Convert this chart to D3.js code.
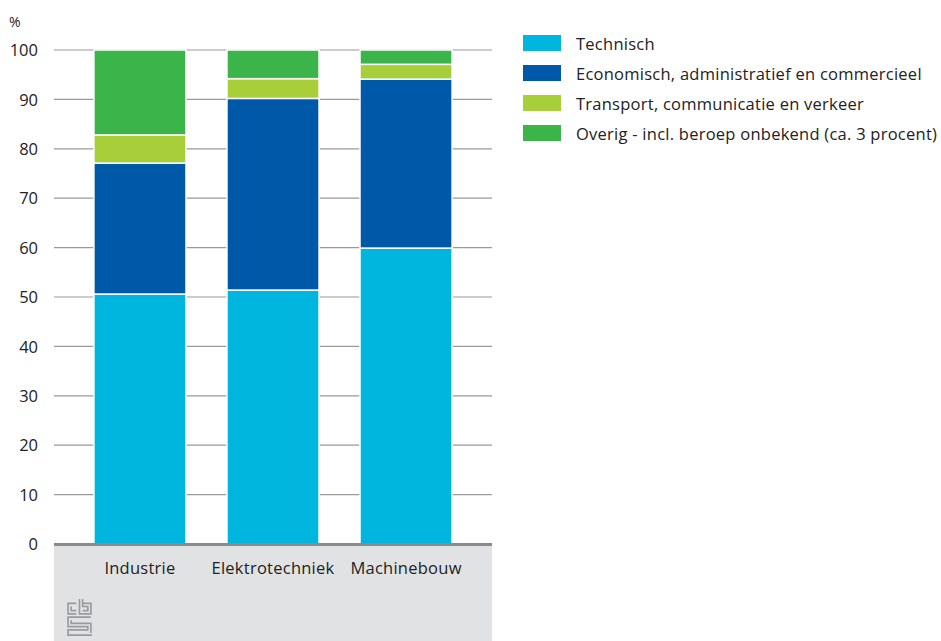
<!DOCTYPE html>
<html><head><meta charset="utf-8">
<script src="https://cdn.jsdelivr.net/npm/d3@7"></script>
<style>body{margin:0;background:#fff}svg{display:block}text{font-family:"Open Sans",sans-serif;fill:#222}</style>
</head><body>
<svg id="c" width="941" height="641"></svg>
<script>
const categories = ["Industrie", "Elektrotechniek", "Machinebouw"];
const seriesNames = ["Technisch", "Economisch, administratief en commercieel", "Transport, communicatie en verkeer", "Overig - incl. beroep onbekend (ca. 3 procent)"];
const technisch = [50.6, 51.4, 59.9];
const economisch = [26.5, 38.8, 34.2];
const transport = [5.7, 4.0, 3.0];
const overig = [17.2, 5.8, 2.9];
const colors = ["#00b6de", "#0058a8", "#a8cf3a", "#3bb54a"];
const yTicks = [0, 10, 20, 30, 40, 50, 60, 70, 80, 90, 100];

(function () {
const svg = d3.select("#c");
const mLeft = 54, mRight = 492, mTop = 50, mBottom = 544;
const fs = 16.5, ls = "0.25px";
const x = d3.scaleBand().domain(categories).range([mLeft, mRight]).paddingInner(0.308).paddingOuter(0.3);
const y = d3.scaleLinear().domain([0, 100]).range([mBottom, mTop]);

svg.append("rect").attr("x", mLeft).attr("y", mBottom).attr("width", mRight - mLeft).attr("height", 641 - mBottom).attr("fill", "#e1e2e4");

svg.append("g").selectAll("line").data(yTicks.filter(d => d > 0)).join("line")
  .attr("x1", mLeft).attr("x2", mRight).attr("y1", d => y(d)).attr("y2", d => y(d))
  .attr("stroke", "#9a9a9a").attr("stroke-width", 1.2);

const yAxis = d3.axisLeft(y).tickValues(yTicks).tickSize(0).tickPadding(0);
const ga = svg.append("g").attr("transform", `translate(38,0)`).call(yAxis);
ga.select(".domain").remove();
ga.selectAll("text").attr("font-size", fs).attr("fill", "#222").attr("dy", "0.35em")
  .style("font-family", '"Open Sans",sans-serif');
svg.append("text").attr("x", 9).attr("y", 27).attr("font-size", 14).text("%");

const rows = categories.map((c, i) => ({cat: c, s0: technisch[i], s1: economisch[i], s2: transport[i], s3: overig[i]}));
const stack = d3.stack().keys(["s0", "s1", "s2", "s3"])(rows);
svg.append("g").selectAll("g").data(stack).join("g").attr("fill", (d, i) => colors[i])
  .selectAll("rect").data(d => d).join("rect")
  .attr("x", d => x(d.data.cat)).attr("width", x.bandwidth())
  .attr("y", d => y(d[1])).attr("height", d => y(d[0]) - y(d[1]))
  .attr("stroke", "#fff").attr("stroke-width", 1.5);

svg.append("line").attr("x1", mLeft).attr("x2", mRight).attr("y1", mBottom + 0.5).attr("y2", mBottom + 0.5)
  .attr("stroke", "#8a8a8c").attr("stroke-width", 3);

const xAxis = d3.axisBottom(x).tickSize(0).tickPadding(0);
const gx = svg.append("g").attr("transform", `translate(0,${mBottom + 18})`).call(xAxis);
gx.select(".domain").remove();
gx.selectAll("text").attr("font-size", fs).attr("fill", "#222").attr("dy", "0.71em")
  .style("letter-spacing", ls).style("font-family", '"Open Sans",sans-serif');

const lg = svg.append("g").selectAll("g").data(seriesNames).join("g")
  .attr("transform", (d, i) => `translate(523,${35 + i * 30})`);
lg.append("rect").attr("width", 38).attr("height", 16).attr("fill", (d, i) => colors[i]);
lg.append("text").attr("x", 53).attr("y", 9).attr("dy", "0.35em").attr("font-size", fs)
  .style("letter-spacing", ls).text(d => d);

const logo = svg.append("g").attr("transform", "translate(67,598) scale(1.04,1.06)").attr("fill", "none").attr("stroke", "#9a9b9e").attr("stroke-width", 1.6);
logo.append("path").attr("d", "M9,5 H1 V15 H9 M4,8 V12 H9");
logo.append("path").attr("d", "M12,1 V15 H23 V5 H15 M15,1 V8 H20 V12 H15");
logo.append("path").attr("d", "M23,18 H1 V27 H20 V30 H1 V35 H24 M4,21 V24 H23 V33");
})();
</script>
</body></html>
